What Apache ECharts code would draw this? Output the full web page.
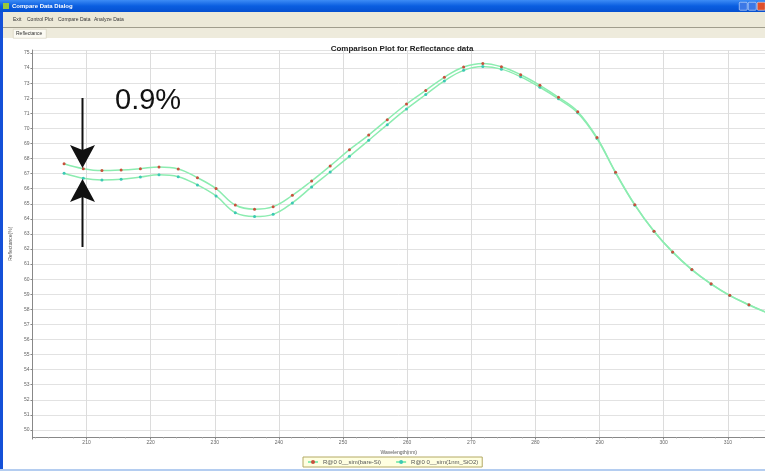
<!DOCTYPE html>
<html>
<head>
<meta charset="utf-8">
<title>Compare Data Dialog</title>
<script src="https://cdn.jsdelivr.net/npm/echarts@6/dist/echarts.min.js"></script>
<style>
  html, body { margin: 0; padding: 0; background: #fff; }
  #chart { width: 765px; height: 471px; }
</style>
</head>
<body>
<div id="chart"></div>
<script>
// wavelength (nm) of each sample
var wavelength = [206.5, 209.5, 212.4, 215.4, 218.4, 221.3, 224.3, 227.3, 230.2, 233.2,
  236.2, 239.1, 242.1, 245.1, 248.0, 251.0, 254.0, 256.9, 259.9, 262.9,
  265.8, 268.8, 271.8, 274.7, 277.7, 280.7, 283.6, 286.6, 289.6, 292.5,
  295.5, 298.5, 301.4, 304.4, 307.4, 310.3, 313.3, 316.3]

// R@0 0__sim(bare-Si)
var bareSi = [67.66, 67.33, 67.20, 67.24, 67.33, 67.44, 67.31, 66.73, 66.01, 64.92,
  64.64, 64.81, 65.56, 66.51, 67.51, 68.59, 69.56, 70.58, 71.62, 72.52,
  73.39, 74.07, 74.31, 74.09, 73.56, 72.86, 72.06, 71.11, 69.39, 67.09,
  64.94, 63.18, 61.81, 60.64, 59.69, 58.93, 58.31, 57.75]

// R@0 0__sim(1nm_SiO2)
var sio2 = [67.02, 66.69, 66.58, 66.62, 66.78, 66.93, 66.80, 66.25, 65.52, 64.41,
  64.15, 64.30, 65.06, 66.12, 67.11, 68.15, 69.21, 70.25, 71.29, 72.25,
  73.15, 73.85, 74.10, 73.93, 73.42, 72.73, 71.96, 71.03, 69.33, 67.05,
  64.91, 63.16, 61.79, 60.62, 59.67, 58.91, 58.29, 57.73]

var seriesNames = ['R@0 0__sim(bare-Si)', 'R@0 0__sim(1nm_SiO2)']

function pairs(ys) {
  return ys.map(function (y, i) { return [wavelength[i], y] })
}

var chart = echarts.init(document.getElementById('chart'))

var option = {
  animation: false,
  backgroundColor: '#fff',
  textStyle: { fontFamily: 'Liberation Sans, Arial, sans-serif' },
  title: {
    text: 'Comparison Plot for Reflectance data',
    left: 397,
    textAlign: 'center',
    top: 40,
    textStyle: { fontSize: 8, fontWeight: 'bold', color: '#222' }
  },
  legend: {
    data: seriesNames,
    left: 303,
    top: 457,
    itemWidth: 10,
    itemHeight: 5,
    itemGap: 14,
    padding: [2, 4],
    backgroundColor: '#ffffe1',
    borderColor: '#b4aa64',
    borderWidth: 1,
    borderRadius: 0,
    textStyle: { fontSize: 6, color: '#555' }
  },
  grid: {
    left: 29,
    right: 0,
    top: 50,
    bottom: 33.5
  },
  xAxis: {
    type: 'value',
    min: 201.57,
    max: 315.8,
    splitNumber: 11,
    name: 'Wavelength(nm)',
    nameLocation: 'middle',
    nameGap: 10,
    nameTextStyle: { fontSize: 5, color: '#555' },
    axisLine: { lineStyle: { color: '#888' } },
    axisTick: { length: 2, lineStyle: { color: '#888' } },
    minorTick: { show: true, splitNumber: 5, length: 1, lineStyle: { color: '#bbb' } },
    axisLabel: { fontSize: 5, color: '#666', margin: 3, showMinLabel: false, showMaxLabel: false },
    splitLine: { show: true, lineStyle: { color: '#dcdcdc' } }
  },
  yAxis: {
    type: 'value',
    min: 49.5,
    max: 75.2,
    splitNumber: 25,
    name: 'Reflectance(%)',
    nameLocation: 'middle',
    nameRotate: 90,
    nameGap: 19,
    nameTextStyle: { fontSize: 5, color: '#555' },
    axisLine: { show: true, lineStyle: { color: '#888' } },
    axisTick: { show: true, length: 2, lineStyle: { color: '#888' } },
    axisLabel: { fontSize: 5, color: '#666', margin: 3, showMinLabel: false, showMaxLabel: false },
    splitLine: { show: true, lineStyle: { color: '#e2e2e2' } }
  },
  series: [
    {
      name: seriesNames[0],
      type: 'line',
      data: pairs(bareSi),
      smooth: 0.4,
      symbol: 'circle',
      symbolSize: 3,
      showAllSymbol: true,
      lineStyle: { color: '#8cecb0', width: 1.5 },
      itemStyle: { color: '#c8503c' },
      z: 3
    },
    {
      name: seriesNames[1],
      type: 'line',
      data: pairs(sio2),
      smooth: 0.4,
      symbol: 'circle',
      symbolSize: 3,
      showAllSymbol: true,
      lineStyle: { color: '#8cecb0', width: 1.5 },
      itemStyle: { color: '#3cc8b4' },
      z: 2
    }
  ],
  graphic: [
    // window title bar
    {
      type: 'rect', left: 0, top: 0, z: 100,
      shape: { width: 765, height: 12 },
      style: {
        fill: new echarts.graphic.LinearGradient(0, 0, 0, 1, [
          { offset: 0, color: '#3d8cf5' },
          { offset: 0.5, color: '#0a5ee0' },
          { offset: 1, color: '#0550d0' }
        ])
      }
    },
    { type: 'rect', left: 3, top: 3, z: 101, shape: { width: 6, height: 6 }, style: { fill: '#9ac83c' } },
    {
      type: 'text', left: 12, top: 3, z: 101,
      style: { text: 'Compare Data Dialog', fill: '#fff', fontSize: 6, fontWeight: 'bold', fontFamily: 'Liberation Sans' }
    },
    { type: 'rect', left: 739, top: 2, z: 101, shape: { width: 8, height: 8, r: 1 }, style: { fill: '#3c78e6', stroke: '#fff', lineWidth: 0.5 } },
    { type: 'rect', left: 748, top: 2, z: 101, shape: { width: 8, height: 8, r: 1 }, style: { fill: '#3c78e6', stroke: '#fff', lineWidth: 0.5 } },
    { type: 'rect', left: 757, top: 2, z: 101, shape: { width: 8, height: 8, r: 1 }, style: { fill: '#e0502c', stroke: '#fff', lineWidth: 0.5 } },
    // menu bar
    { type: 'rect', left: 0, top: 12, z: 100, shape: { width: 765, height: 15 }, style: { fill: '#ece9d8' } },
    { type: 'text', left: 13, top: 17, z: 101, style: { text: 'Exit', fill: '#333', fontSize: 5, fontFamily: 'Liberation Sans' } },
    { type: 'text', left: 27, top: 17, z: 101, style: { text: 'Control Plot', fill: '#333', fontSize: 5, fontFamily: 'Liberation Sans' } },
    { type: 'text', left: 58, top: 17, z: 101, style: { text: 'Compare Data', fill: '#333', fontSize: 5, fontFamily: 'Liberation Sans' } },
    { type: 'text', left: 94, top: 17, z: 101, style: { text: 'Analyze Data', fill: '#333', fontSize: 5, fontFamily: 'Liberation Sans' } },
    { type: 'rect', left: 0, top: 27, z: 100, shape: { width: 765, height: 1 }, style: { fill: '#a09d8c' } },
    // tab row
    { type: 'rect', left: 0, top: 28, z: 100, shape: { width: 765, height: 10 }, style: { fill: '#eeebdc' } },
    { type: 'rect', left: 13, top: 29, z: 101, shape: { width: 33, height: 9 }, style: { fill: '#fbfaf3', stroke: '#c8c4ac', lineWidth: 0.5 } },
    { type: 'text', left: 16, top: 31, z: 102, style: { text: 'Reflectance', fill: '#333', fontSize: 5, fontFamily: 'Liberation Sans' } },
    // window borders
    { type: 'rect', left: 0, top: 12, z: 100, shape: { width: 3, height: 459 }, style: { fill: '#1450d8' } },
    { type: 'rect', left: 0, top: 469, z: 100, shape: { width: 765, height: 2 }, style: { fill: '#b4cdf0' } },
    // 0.9% annotation
    {
      type: 'text', left: 115, top: 86, z: 110,
      style: { text: '0.9%', fill: '#111', fontSize: 29, fontFamily: 'Liberation Sans' }
    },
    { type: 'line', z: 110, shape: { x1: 82.5, y1: 98, x2: 82.5, y2: 160 }, style: { stroke: '#111', lineWidth: 2 } },
    {
      type: 'polygon', z: 110,
      shape: { points: [[70, 145], [82.5, 150], [95, 145], [82.5, 168]] },
      style: { fill: '#111' }
    },
    { type: 'line', z: 110, shape: { x1: 82.5, y1: 188, x2: 82.5, y2: 247 }, style: { stroke: '#111', lineWidth: 2 } },
    {
      type: 'polygon', z: 110,
      shape: { points: [[70, 202], [82.5, 197], [95, 202], [82.5, 179]] },
      style: { fill: '#111' }
    }
  ]
}

chart.setOption(option)
</script>
</body>
</html>
